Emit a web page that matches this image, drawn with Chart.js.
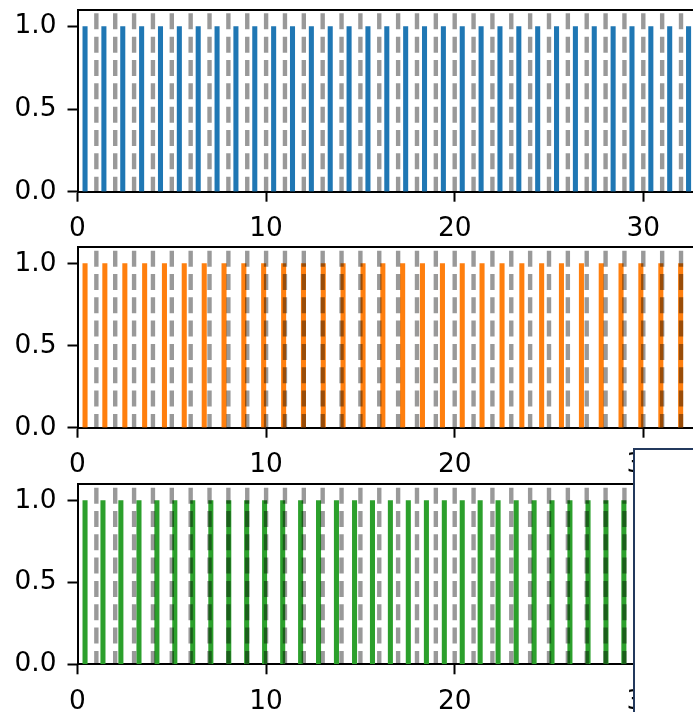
<!DOCTYPE html>
<html>
<head>
<meta charset="utf-8">
<script src="https://cdn.jsdelivr.net/npm/chart.js@4/dist/chart.umd.min.js"></script>
<style>
html, body { margin: 0; padding: 0; background: #fff; }
#wrap { position: relative; width: 693px; height: 712px; overflow: hidden; background: #fff; }
#wrap canvas { position: absolute; left: 0; }
#box { position: absolute; left: 632.7px; top: 447.7px; width: 200px; height: 400px;
       border-left: 2px solid #23395d; border-top: 2px solid #23395d; background: #fff; z-index: 5; }
</style>
</head>
<body>
<div id="wrap">
  <canvas id="c0" width="760" height="237" style="top:0px"></canvas>
  <canvas id="c1" width="760" height="237" style="top:237px"></canvas>
  <canvas id="c2" width="760" height="237" style="top:474px"></canvas>
  <div id="box"></div>
</div>
<script>
// ---- data ----
const blueStems = [0.4, 1.4, 2.4, 3.4, 4.4, 5.4, 6.4, 7.4, 8.4, 9.4, 10.4, 11.4, 12.4, 13.4, 14.4, 15.4,
  16.4, 17.4, 18.4, 19.4, 20.4, 21.4, 22.4, 23.4, 24.4, 25.4, 26.4, 27.4, 28.4, 29.4, 30.4, 31.4, 32.4];
const orangeStems = [0.40, 1.45, 2.51, 3.56, 4.61, 5.66, 6.72, 7.77, 8.82, 9.87, 10.93, 11.98, 13.03,
  14.08, 15.14, 16.19, 17.24, 18.29, 19.35, 20.40, 21.45, 22.51, 23.56, 24.61, 25.66, 26.72, 27.77,
  28.82, 29.87, 30.93, 31.98, 33.03];
const greenStems = [0.40, 1.35, 2.30, 3.26, 4.21, 5.16, 6.11, 7.07, 8.02, 8.97, 9.92, 10.88, 11.83,
  12.78, 13.73, 14.69, 15.64, 16.59, 17.54, 18.50, 19.45, 20.40, 21.35, 22.30, 23.26, 24.21, 25.16,
  26.11, 27.07, 28.02, 28.97, 29.92, 30.88, 31.83, 32.78];
const stemHeight = 1.0;
const guideLines = [1, 2, 3, 4, 5, 6, 7, 8, 9, 10, 11, 12, 13, 14, 15, 16, 17, 18, 19, 20,
  21, 22, 23, 24, 25, 26, 27, 28, 29, 30, 31, 32, 33, 34];
const xTickValues = [0, 10, 20, 30];
const yTickValues = [0.0, 0.5, 1.0];
const xRange = [0, 34];
const yRange = [0, 1.1];

const seriesList = [blueStems, orangeStems, greenStems];
const colors = ['#1f77b4', '#ff7f0e', '#2ca02c'];
const panels = [
  { id: 'c0', padTop: 10.0, xAxisH: 45.3 },
  { id: 'c1', padTop: 10.3, xAxisH: 46.3 },
  { id: 'c2', padTop: 10.3, xAxisH: 46.7 }
];

const FONT = { family: 'DejaVu Sans', size: 26.4 };

function guideData() {
  const out = [];
  guideLines.forEach(g => {
    out.push({ x: g, y: yRange[1] });
    out.push({ x: g, y: yRange[0] });
    out.push({ x: g, y: null });
  });
  return out;
}

function noPad(s) { s.paddingTop = 0; s.paddingBottom = 0; s.paddingLeft = 0; s.paddingRight = 0; }

panels.forEach((p, i) => {
  const stems = seriesList[i];
  new Chart(document.getElementById(p.id), {
    type: 'bar',
    data: {
      datasets: [
        {
          type: 'line',
          data: guideData(),
          borderColor: 'rgba(0,0,0,0.4)',
          borderWidth: 4.4,
          borderDash: [16, 7.33],
          borderDashOffset: 20,
          pointRadius: 0,
          fill: false,
          spanGaps: false,
          order: 0
        },
        {
          type: 'bar',
          data: stems.map(x => ({ x: x, y: stemHeight })),
          backgroundColor: colors[i],
          borderWidth: 0,
          barThickness: 4.4,
          order: 1
        }
      ]
    },
    options: {
      responsive: false,
      animation: false,
      events: [],
      layout: { padding: { top: p.padTop, left: 0, right: 760 - (77.5 + xRange[1] * 18.86), bottom: 0 } },
      plugins: { legend: { display: false }, tooltip: { enabled: false } },
      scales: {
        x: {
          type: 'linear', position: 'bottom', min: xRange[0], max: xRange[1], offset: false, z: 1,
          afterBuildTicks: s => { s.ticks = xTickValues.map(v => ({ value: v })); },
          afterFit: s => { s.height = p.xAxisH; noPad(s); },
          grid: { display: true, offset: false, drawOnChartArea: false, drawTicks: true,
                  tickLength: 10, tickWidth: 2, tickColor: '#000' },
          border: { display: true, color: '#000', width: 2 },
          ticks: { font: FONT, color: '#000', padding: 12, maxRotation: 0, autoSkip: false,
                   callback: v => String(v) }
        },
        x2: {
          type: 'linear', position: 'top', min: xRange[0], max: xRange[1], offset: false, z: 1,
          afterFit: s => { s.height = 0; noPad(s); },
          grid: { display: false, drawTicks: false },
          border: { display: true, color: '#000', width: 2 },
          ticks: { display: false }
        },
        y: {
          type: 'linear', position: 'left', min: yRange[0], max: yRange[1], z: 1,
          afterBuildTicks: s => { s.ticks = yTickValues.map(v => ({ value: v })); },
          afterFit: s => { s.width = 77.5; noPad(s); },
          grid: { display: true, drawOnChartArea: false, drawTicks: true,
                  tickLength: 10, tickWidth: 2, tickColor: '#000' },
          border: { display: true, color: '#000', width: 2 },
          ticks: { font: FONT, color: '#000', padding: 11, autoSkip: false,
                   callback: v => Number(v).toFixed(1) }
        }
      }
    }
  });
});
</script>
</body>
</html>
